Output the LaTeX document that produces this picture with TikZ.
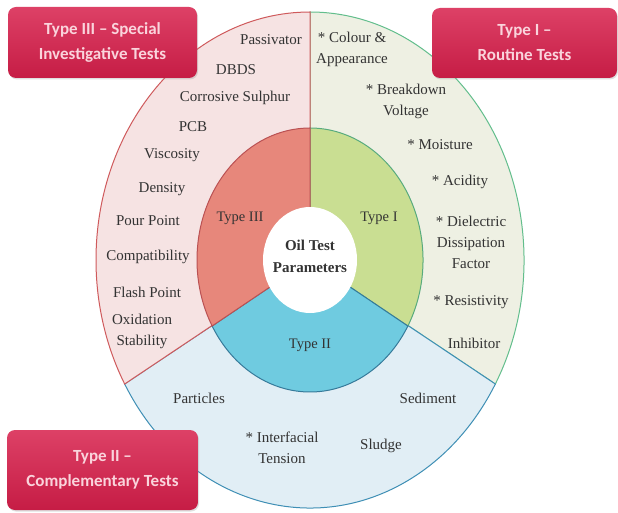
\documentclass[tikz,border=0pt]{standalone}
\usepackage{fontspec}
\setmainfont{Liberation Serif}
\newfontfamily\boxfont[Ligatures=TeX]{Carlito}
\usepackage{tikz}
\usepackage{xcolor}
\usetikzlibrary{shadows}

\definecolor{outerI}{HTML}{EEF0E3}
\definecolor{outerII}{HTML}{E1EEF5}
\definecolor{outerIII}{HTML}{F6E3E3}
\definecolor{innerI}{HTML}{C9DE92}
\definecolor{innerII}{HTML}{6FCBE0}
\definecolor{innerIII}{HTML}{E7877B}
\definecolor{lineI}{HTML}{62BE8C}
\definecolor{lineII}{HTML}{3F8FB5}
\definecolor{lineIII}{HTML}{CF5A5C}
\definecolor{boxred}{HTML}{D71F4B}
\definecolor{boxtext}{HTML}{FAD4DC}
\definecolor{testtext}{HTML}{333333}

\tikzset{
    test/.style={text=testtext, align=center, inner sep=0pt, font=\fontsize{15}{21}\selectfont},
    typename/.style={text=testtext, inner sep=0pt, font=\fontsize{14.5}{18}\selectfont},
    typebox/.style={draw=none, rounded corners=8pt, top color=boxred!85!white, bottom color=boxred!92!black,
        text=boxtext, align=center, font=\boxfont\bfseries\fontsize{17}{25}\selectfont,
        drop shadow={opacity=0.25, shadow xshift=1pt, shadow yshift=-1.5pt}},
    ring/.style={line width=1pt}
}

\begin{document}
\begin{tikzpicture}[x=1pt, y=1pt]
\useasboundingbox[fill=white] (0,0) rectangle (618,512);
\coordinate (c) at (310,252);

\filldraw[ring, fill=outerI, draw=lineI] (c) -- ++(-30:214pt and 248pt) arc[start angle=-30, end angle=90, x radius=214pt, y radius=248pt] -- cycle;
\filldraw[ring, fill=outerII, draw=lineII] (c) -- ++(210:214pt and 248pt) arc[start angle=210, end angle=330, x radius=214pt, y radius=248pt] -- cycle;
\filldraw[ring, fill=outerIII, draw=lineIII] (c) -- ++(90:214pt and 248pt) arc[start angle=90, end angle=210, x radius=214pt, y radius=248pt] -- cycle;

\filldraw[ring, fill=innerI, draw=lineI!90!black] (c) -- ++(-30:113pt and 132pt) arc[start angle=-30, end angle=90, x radius=113pt, y radius=132pt] -- cycle;
\filldraw[ring, fill=innerII, draw=lineII!85!black] (c) -- ++(210:113pt and 132pt) arc[start angle=210, end angle=330, x radius=113pt, y radius=132pt] -- cycle;
\filldraw[ring, fill=innerIII, draw=lineIII!90!black] (c) -- ++(90:113pt and 132pt) arc[start angle=90, end angle=210, x radius=113pt, y radius=132pt] -- cycle;

\fill[white] (c) ellipse[x radius=47pt, y radius=53pt];

\node[test, font=\bfseries\fontsize{15}{22}\selectfont] (centre) at (310,256) {Oil Test\\Parameters};
\node[typename] (type three) at (240,294) {Type III};
\node[typename] (type one) at (379,294) {Type I};
\node[typename] (type two) at (310,167) {Type II};

\node[test] (passivator) at (271,472) {Passivator};
\node[test] (dbds) at (236,442) {DBDS};
\node[test] (sulphur) at (235,414) {Corrosive Sulphur};
\node[test] (pcb) at (193,385) {PCB};
\node[test] (viscosity) at (172,357) {Viscosity};
\node[test] (density) at (162,323) {Density};
\node[test] (pour point) at (148,291) {Pour Point};
\node[test] (compatibility) at (148,255) {Compatibility};
\node[test] (flash point) at (147,220) {Flash Point};
\node[test] (oxidation) at (142,181) {Oxidation\\Stability};

\node[test] (colour) at (352,463) {* Colour \&\\Appearance};
\node[test] (breakdown) at (406,411) {* Breakdown\\Voltage};
\node[test] (moisture) at (440,367) {* Moisture};
\node[test] (acidity) at (460,330) {* Acidity};
\node[test] (dissipation) at (471,270) {* Dielectric\\Dissipation\\Factor};
\node[test] (resistivity) at (471,210) {* Resistivity};
\node[test] (inhibitor) at (474,169) {Inhibitor};

\node[test] (particles) at (199,114) {Particles};
\node[test] (sediment) at (428,114) {Sediment};
\node[test] (interfacial) at (282,64) {* Interfacial\\Tension};
\node[test] (sludge) at (381,66) {Sludge};

\node[typebox, minimum width=189pt, minimum height=71pt] (special) at (102.5,469.5) {Type III -- Special\\Investigative Tests};
\node[typebox, minimum width=185pt, minimum height=70pt] (routine) at (524.5,469) {Type I --\\Routine Tests};
\node[typebox, minimum width=191pt, minimum height=80pt] (complementary) at (102.5,42) {Type II --\\Complementary Tests};
\end{tikzpicture}
\end{document}
